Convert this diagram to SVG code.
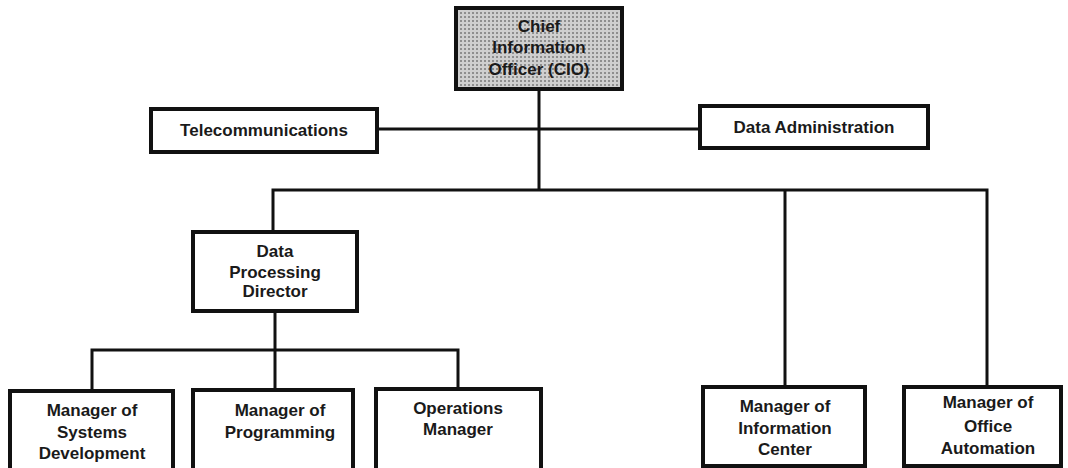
<svg xmlns="http://www.w3.org/2000/svg" width="1068" height="468" viewBox="0 0 1068 468">
<defs>
<pattern id="stip" width="4" height="4" patternUnits="userSpaceOnUse">
<rect width="4" height="4" fill="#cfcfcf"/>
<rect x="0" y="0" width="2" height="2" fill="#8e8e8e"/>
</pattern>
</defs>
<style>
.box{fill:#fff;stroke:#111;stroke-width:4}
.cio{fill:url(#stip);stroke:#111;stroke-width:4}
.ln{fill:none;stroke:#111;stroke-width:3}
text{font-family:"Liberation Sans",Arial,sans-serif;font-weight:bold;font-size:17px;fill:#1a1a1a;text-anchor:middle}
</style>
<rect width="1068" height="468" fill="#fff"/>
<g id="connectors">
<path class="ln" d="M539 89 V189"/>
<path class="ln" d="M377 129 H700"/>
<path class="ln" d="M273 232 V190 H987 V387"/>
<path class="ln" d="M785 190 V387"/>
<path class="ln" d="M275 311 V390"/>
<path class="ln" d="M92 391 V350 H458 V389"/>
</g>
<g id="cio">
<rect class="cio" x="456" y="8" width="166" height="81"/>
<text x="539" y="32">Chief</text>
<text x="539" y="53">Information</text>
<text x="539" y="75">Officer (CIO)</text>
</g>
<g id="telecom">
<rect class="box" x="151" y="109" width="226" height="43"/>
<text x="264" y="136">Telecommunications</text>
</g>
<g id="dataadmin">
<rect class="box" x="700" y="106" width="228" height="42"/>
<text x="814" y="133">Data Administration</text>
</g>
<g id="dpdirector">
<rect class="box" x="193" y="232" width="164" height="79"/>
<text x="275" y="257">Data</text>
<text x="275" y="278">Processing</text>
<text x="275" y="297">Director</text>
</g>
<g id="sysdev">
<rect class="box" x="10" y="391" width="163" height="90"/>
<text x="92" y="416">Manager of</text>
<text x="92" y="438">Systems</text>
<text x="92" y="459">Development</text>
</g>
<g id="programming">
<rect class="box" x="193" y="390" width="160" height="90"/>
<text x="280" y="416">Manager of</text>
<text x="280" y="438">Programming</text>
</g>
<g id="operations">
<rect class="box" x="376" y="389" width="165" height="92"/>
<text x="458" y="414">Operations</text>
<text x="458" y="435">Manager</text>
</g>
<g id="infocenter">
<rect class="box" x="703" y="387" width="162" height="79"/>
<text x="785" y="412">Manager of</text>
<text x="785" y="434">Information</text>
<text x="785" y="455">Center</text>
</g>
<g id="officeauto">
<rect class="box" x="904" y="387" width="157" height="79"/>
<text x="988" y="408">Manager of</text>
<text x="988" y="432">Office</text>
<text x="988" y="454">Automation</text>
</g>
</svg>
